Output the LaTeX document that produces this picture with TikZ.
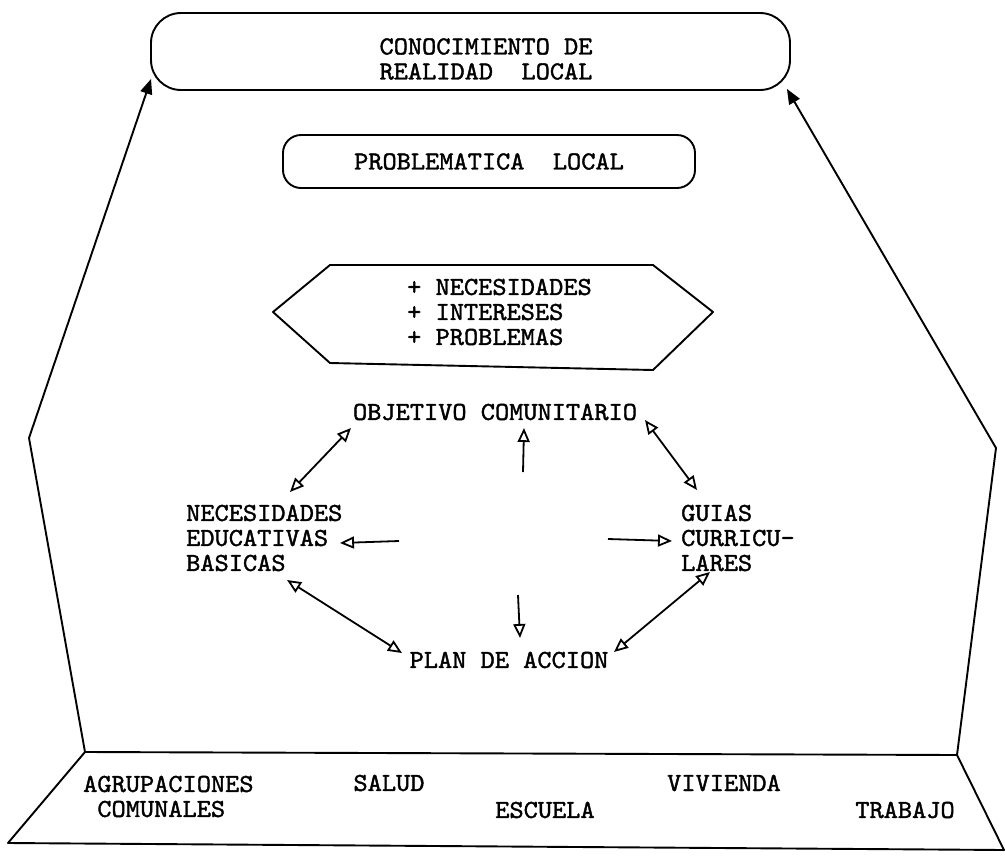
\documentclass[tikz,border=0pt]{standalone}
\usepackage{fontspec}
\usetikzlibrary{arrows.meta,calc}
\newfontfamily\tw[FakeStretch=1.04,FakeBold=1.5]{lmmono10-regular.otf}
\tikzset{
  txt/.style={font=\tw\fontsize{26}{25}\selectfont, inner sep=0pt},
  outl/.style={line width=1.9pt, line join=round},
  rbox/.style={draw, line width=1.9pt},
  toparr/.style={outl, -{Triangle[length=15pt,width=12pt]}},
  dblarr/.style={line width=1.8pt, {Triangle[open,length=14pt,width=12pt]}-{Triangle[open,length=14pt,width=12pt]}},
  sglarr/.style={line width=1.8pt, -{Triangle[open,length=14pt,width=12pt]}}
}
\begin{document}
\begin{tikzpicture}[x=1pt,y=-1pt]
\useasboundingbox (0,0) rectangle (1005,855);
% top boxes
\node[rbox, rounded corners=30pt, minimum width=639pt, minimum height=77pt] (conoc) at (470.5,51.5) {};
\node[txt, align=center] (conoctxt) at (486,59) {CONOCIMIENTO DE\\REALIDAD~~LOCAL};
\node[rbox, txt, inner sep=0pt, rounded corners=18pt, minimum width=412pt, minimum height=53pt] (prob) at (489,161.5) {PROBLEMATICA~~LOCAL};
% hexagon
\coordinate (h1) at (273,312);
\coordinate (h2) at (330,265);
\coordinate (h3) at (653,265);
\coordinate (h4) at (713,312);
\coordinate (h5) at (653,370);
\coordinate (h6) at (330,363);
\draw[outl] (h1) -- (h2) -- (h3) -- (h4) -- (h5) -- (h6) -- cycle;
\node[txt, align=left, anchor=west] (hextxt) at (407,312) {+ NECESIDADES\\+ INTERESES\\+ PROBLEMAS};
% cycle
\node[txt] (obj) at (495,412) {OBJETIVO COMUNITARIO};
\node[txt, align=left, anchor=west] (nec) at (186,538) {NECESIDADES\\EDUCATIVAS\\BASICAS};
\node[txt, align=left, anchor=west] (guias) at (681,538) {GUIAS\\CURRICU-\\LARES};
\node[txt] (plan) at (509,660) {PLAN DE ACCION};
\coordinate (c) at (520,540);
\draw[dblarr] ([shift={(-144,16)}]obj.center) -- ([shift={(104,-46)}]nec.west);
\draw[dblarr] ([shift={(150,8)}]obj.center) -- ([shift={(16,-48)}]guias.west);
\draw[dblarr] ([shift={(101,42)}]nec.west) -- ([shift={(-107,-7)}]plan.center);
\draw[dblarr] ([shift={(29,34)}]guias.west) -- ([shift={(105,-8)}]plan.center);
\draw[sglarr] ([shift={(3,-68)}]c) -- ([shift={(29,16)}]obj.center);
\draw[sglarr] ([shift={(-121,1)}]c) -- ([shift={(154,5)}]nec.west);
\draw[sglarr] ([shift={(88,-1)}]c) -- ([shift={(-9,3)}]guias.west);
\draw[sglarr] ([shift={(-2,55)}]c) -- ([shift={(11,-22)}]plan.center);
% base and walls
\coordinate (tl) at (85,752);
\coordinate (tr) at (957,755);
\coordinate (br) at (1004,850);
\coordinate (bl) at (8,843);
\coordinate (kl) at (29,438);
\coordinate (kr) at (996,448);
\draw[outl] (tl) -- (tr) -- (br) -- (bl) -- cycle;
\draw[toparr] (tl) -- (kl) -- ([shift={(1,-12)}]conoc.south west);
\draw[toparr] (tr) -- (kr) -- ([shift={(-4,-2)}]conoc.south east);
% base labels
\node[txt, align=left, anchor=west] (agr) at (83,796.5) {AGRUPACIONES\\\phantom{A}COMUNALES};
\node[txt] (salud) at (389,783) {SALUD};
\node[txt] (viv) at (724,783) {VIVIENDA};
\node[txt] (esc) at (545,810) {ESCUELA};
\node[txt] (trab) at (905,810) {TRABAJO};
\end{tikzpicture}
\end{document}
